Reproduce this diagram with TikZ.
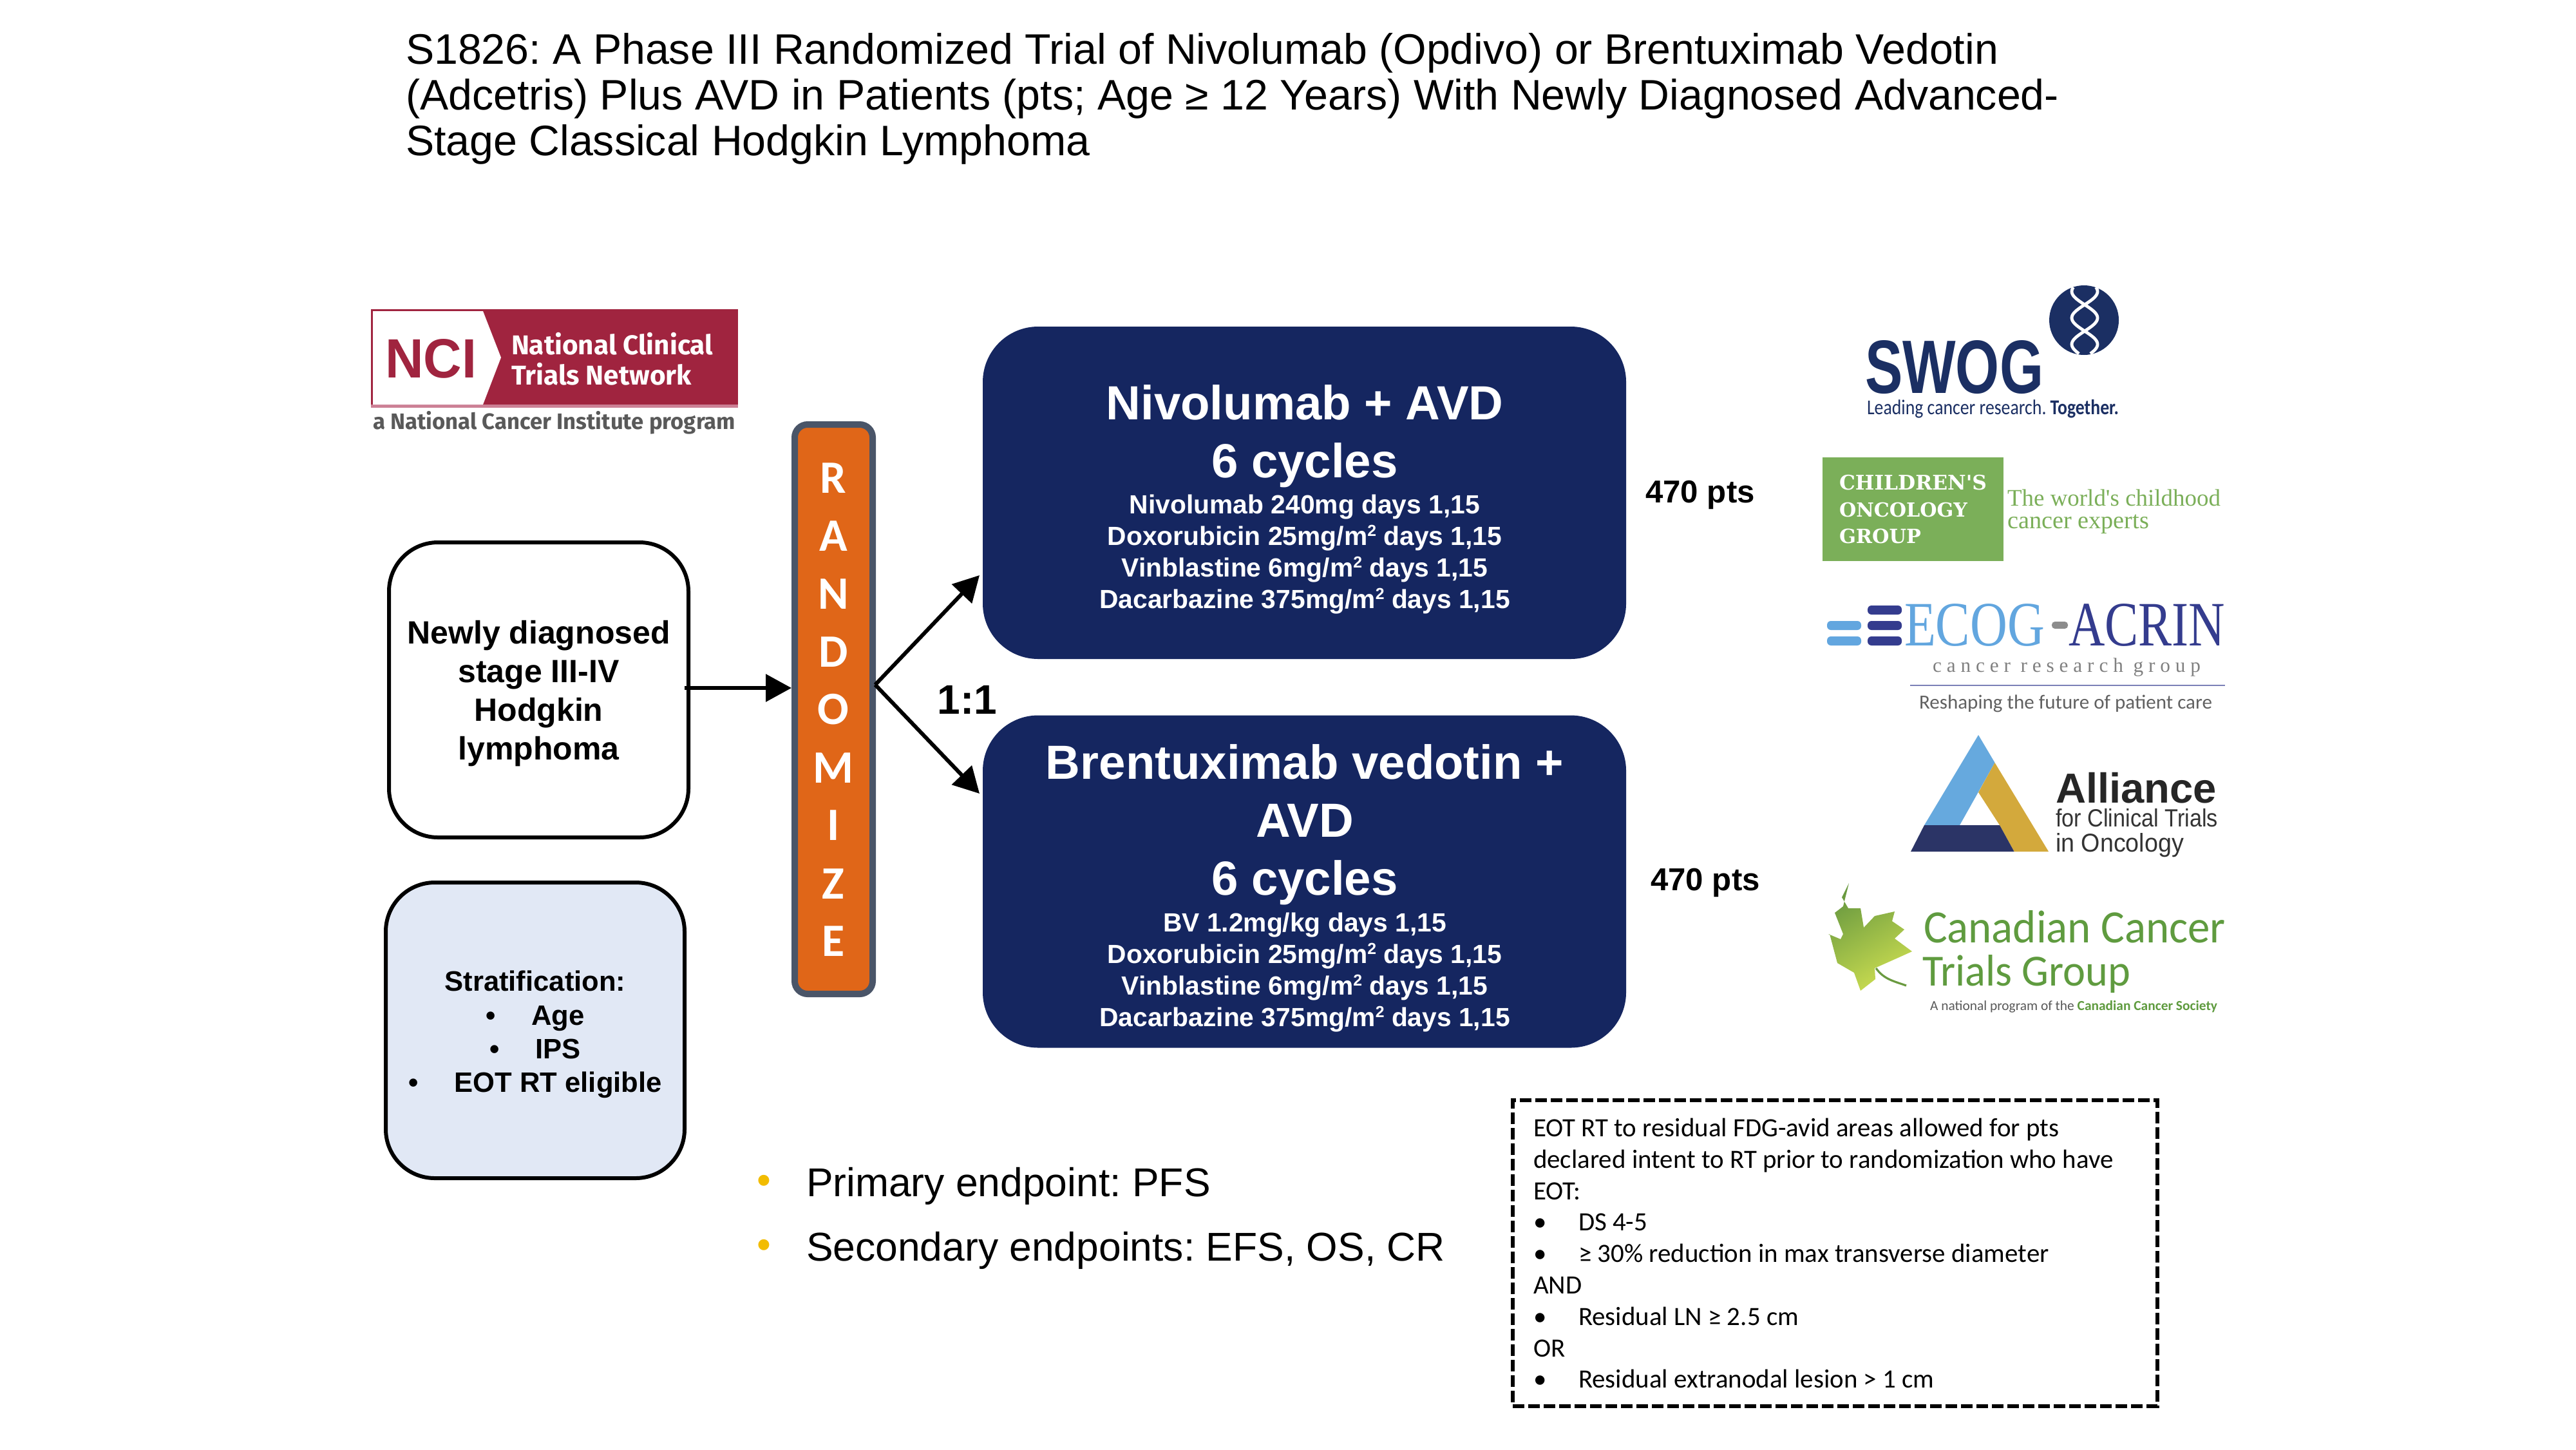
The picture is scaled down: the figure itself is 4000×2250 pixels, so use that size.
\documentclass[tikz,border=0pt]{standalone}
\usepackage{fontspec}
\usepackage{graphicx}
\usetikzlibrary{arrows.meta}
\setmainfont{Liberation Sans}
\newfontfamily\calib{Carlito}
\newfontfamily\slab{DejaVu Serif}
\newfontfamily\tserif{Liberation Serif}
\newfontfamily\logosans{Fira Sans}
\frenchspacing
\newlength\pxu \setlength\pxu{0.25pt}
\definecolor{navy}{HTML}{152660}
\definecolor{orangeR}{HTML}{E06618}
\definecolor{slateR}{HTML}{4A5568}
\definecolor{paleblue}{HTML}{E1E8F5}
\definecolor{nciRed}{HTML}{A0243F}
\definecolor{nciPale}{HTML}{CC8095}
\definecolor{swogBlue}{HTML}{1B2F63}
\definecolor{cogGreen}{HTML}{7BAF59}
\definecolor{ecogLight}{HTML}{62A6DF}
\definecolor{ecogDark}{HTML}{343C8E}
\definecolor{allBlue}{HTML}{66A9DE}
\definecolor{allGold}{HTML}{D3A93C}
\definecolor{allNavy}{HTML}{2B3466}
\definecolor{ccGreen}{HTML}{5F9B3F}
\definecolor{leafDark}{HTML}{6A9A40}
\definecolor{leafLight}{HTML}{CBDD50}
\definecolor{yellowB}{HTML}{F2BC00}
\newcommand{\fitw}[2]{\resizebox{#1\pxu}{!}{#2}}
\newcommand{\fitwh}[3]{\resizebox{#1\pxu}{#2\pxu}{#3}}
\newcommand{\bull}{\makebox[70\pxu][l]{\textbullet}}
\newcommand{\sqr}{\raisebox{0.36em}{\fontsize{6.2}{7}\selectfont 2}}
\tikzset{
  txt/.style={inner sep=0pt,outer sep=0pt},
  logotxt/.style={inner sep=0pt,outer sep=0pt,anchor=base west},
  roundbox/.style 2 args={rectangle,outer sep=0pt,inner sep=0pt,minimum width=#1\pxu,minimum height=#2\pxu},
  armbox/.style={roundbox={999}{516},fill=navy,rounded corners=21.5pt},
  armhead/.style={txt,align=center,text=white,font=\fontsize{18.6}{22.5}\selectfont\bfseries},
  armsub/.style={txt,align=center,text=white,font=\fontsize{10.2}{12.25}\selectfont\bfseries},
  flowarrow/.style={line width=1.5pt,-{Triangle[length=10pt,width=10.5pt]}},
  randletter/.style={txt,text=white,font=\fontsize{18}{20}\selectfont\calib\bfseries},
  ptslabel/.style={txt,font=\fontsize{12.3}{14}\selectfont\bfseries},
  endpt/.style={txt,anchor=west,font=\fontsize{15.6}{18}\selectfont},
  ybull/.style={txt,text=yellowB,font=\fontsize{15.6}{18}\selectfont}
}
\begin{document}
\begin{tikzpicture}[x=0.25pt,y=-0.25pt]
\fill[white] (0,0) rectangle (4000,2250);
\path[use as bounding box] (0,0) rectangle (4000,2250);

% title
\node[txt,anchor=north west,align=left,font=\fontsize{16.57}{17.85}\selectfont] (title) at (630,51)
 {S1826: A Phase III Randomized Trial of Nivolumab (Opdivo) or Brentuximab Vedotin\\
  (Adcetris) Plus AVD in Patients (pts; Age ≥ 12 Years) With Newly Diagnosed Advanced-\\
  Stage Classical Hodgkin Lymphoma};

% main boxes
\node[roundbox={465}{458},draw=black,line width=1.5pt,fill=white,rounded corners=19pt] (in) at (836.5,1071) {};
\node[txt,align=center,font=\fontsize{12.5}{15}\selectfont\bfseries] (intxt) at (836.5,1077)
 {Newly diagnosed\\stage III-IV\\Hodgkin\\lymphoma};
\node[roundbox={464}{459},draw=black,line width=1.5pt,fill=paleblue,rounded corners=19pt] (strat) at (831,1599.5) {};
\node[txt,align=center,font=\fontsize{10.9}{13.1}\selectfont\bfseries] (strattxt) at (831,1606)
 {Stratification:\\
  \textbullet\hspace{14pt}Age\\
  \textbullet\hspace{14pt}IPS\\
  \textbullet\hspace{14pt}EOT RT eligible};
\node[roundbox={121}{884},draw=slateR,line width=2.5pt,fill=orangeR,rounded corners=5pt] (rand) at (1294.5,1101) {};
\foreach \l/\y in {R/742,A/832,N/922,D/1012,O/1101,M/1192,I/1281,Z/1372,E/1461}
  \node[randletter] (let\l) at (1294,\y) {\l};
\node[armbox] (arm1) at (2025.5,765) {};
\node[armbox] (arm2) at (2025.5,1368.5) {};

\node[armhead] (arm1h) at (2026,677) {Nivolumab + AVD\\6 cycles};
\node[armsub] (arm1s) at (2026,861)
 {Nivolumab 240mg days 1,15\\
  Doxorubicin 25mg/m\sqr{} days 1,15\\
  Vinblastine 6mg/m\sqr{} days 1,15\\
  Dacarbazine 375mg/m\sqr{} days 1,15};
\node[armhead] (arm2h) at (2026,1280) {Brentuximab vedotin +\\AVD\\6 cycles};
\node[armsub] (arm2s) at (2026,1510)
 {BV 1.2mg/kg days 1,15\\
  Doxorubicin 25mg/m\sqr{} days 1,15\\
  Vinblastine 6mg/m\sqr{} days 1,15\\
  Dacarbazine 375mg/m\sqr{} days 1,15};

% connectors
\coordinate (inlevel) at (0,1068);
\coordinate (fork) at (1359,1063);
\coordinate (tip1) at (1521,893);
\coordinate (tip2) at (1521,1232);
\draw[flowarrow] ([xshift=-1.5pt]in.east |- inlevel) -- ([xshift=-1.25pt]rand.west |- inlevel);
\draw[flowarrow] (fork) -- (tip1);
\draw[flowarrow] (fork) -- (tip2);

\node[txt,font=\fontsize{16}{18}\selectfont\bfseries] (ratio) at (1502,1086) {1:1};
\node[ptslabel] (pts1) at (2640,768) {470 pts};
\node[ptslabel] (pts2) at (2648,1370) {470 pts};

% endpoints
\node[ybull] (b1) at (1186,1839) {\textbullet};
\node[endpt] (e1) at (1252,1841) {Primary endpoint: PFS};
\node[ybull] (b2) at (1186,1939) {\textbullet};
\node[endpt] (e2) at (1252,1941) {Secondary endpoints: EFS, OS, CR};

% dashed note
\node[roundbox={1001}{475},draw=black,line width=1.5pt,dash pattern=on 4.5pt off 1.5pt] (note) at (2849.5,1945.5) {};
\node[txt,anchor=north west,align=left,font=\fontsize{10.23}{12.2}\selectfont\calib] (notetxt) at (2381,1736)
 {EOT RT to residual FDG-avid areas allowed for pts\\
  declared intent to RT prior to randomization who have\\
  EOT:\\
  \bull DS 4-5\\
  \bull ≥ 30\% reduction in max transverse diameter\\
  AND\\
  \bull Residual LN ≥ 2.5 cm\\
  OR\\
  \bull Residual extranodal lesion > 1 cm};

% NCI logo
\fill[nciRed] (576,480) rectangle (1146,628);
\fill[nciPale] (576,628) rectangle (1146,633);
\fill[white] (579,483) -- (750,483) -- (778,555) -- (750,628) -- (579,628) -- cycle;
\node[logotxt,text=nciRed,font=\bfseries] (nci) at (598,586) {\fitwh{142}{60}{NCI}};
\node[logotxt,text=white,font=\logosans\bfseries] (nci1) at (794,550) {\fitw{313}{National Clinical}};
\node[logotxt,text=white,font=\logosans\bfseries] (nci2) at (794,597) {\fitw{280}{Trials Network}};
\node[logotxt,text=black!65,font=\logosans\bfseries] (nci3) at (579,666) {\fitw{563}{a National Cancer Institute program}};

% SWOG logo
\fill[swogBlue] (3236,497) circle[radius=54];
\draw[white,line width=1.2pt] plot[domain=446:549,samples=50,smooth] ({3237+20*sin((\x-473)/41*180)},\x);
\draw[white,line width=1.2pt] plot[domain=446:549,samples=50,smooth] ({3237-20*sin((\x-473)/41*180)},\x);
\node[logotxt,text=swogBlue,font=\bfseries] (swog) at (2896,610) {\fitwh{277}{82}{SWOG}};
\node[logotxt,text=swogBlue,font=\calib] (swog2) at (2899,643) {\fitwh{391}{23}{Leading cancer research. \textbf{Together.}}};

% COG logo
\fill[cogGreen] (2830,710) rectangle (3111,871);
\node[logotxt,text=white,font=\slab\bfseries] (cog1) at (2856,760) {\fitw{229}{CHILDREN'S}};
\node[logotxt,text=white,font=\slab\bfseries] (cog2) at (2856,802) {\fitw{199}{ONCOLOGY}};
\node[logotxt,text=white,font=\slab\bfseries] (cog3) at (2856,843) {\fitw{127}{GROUP}};
\node[logotxt,text=cogGreen,font=\tserif] (cog4) at (3117,785) {\fitw{331}{The world's childhood}};
\node[logotxt,text=cogGreen,font=\tserif] (cog5) at (3117,820) {\fitw{220}{cancer experts}};

% ECOG-ACRIN logo
\foreach \a/\b in {964/978,988/1002}
  \fill[ecogLight,rounded corners=1.5pt] (2837,\a) rectangle (2890,\b);
\foreach \a/\b in {940/954,964/978,988/1002}
  \fill[ecogDark,rounded corners=1.5pt] (2900,\a) rectangle (2953,\b);
\node[logotxt,text=ecogLight,font=\tserif] (ecog) at (2957,1002) {\fitwh{218}{65}{ECOG}};
\fill[black!45,rounded corners=1.2pt] (3186,965) rectangle (3211,976);
\node[logotxt,text=ecogDark,font=\tserif] (acrin) at (3212,1002) {\fitwh{243}{65}{ACRIN}};
\node[logotxt,text=black!50,font=\tserif] (ecog2) at (3001,1043) {\fitw{416}{c a n c e r\ \ r e s e a r c h\ \ g r o u p}};
\draw[ecogDark!65,line width=0.6pt] (2966,1064) -- (3455,1064);
\node[logotxt,text=black!62,font=\calib] (ecog3) at (2980,1100) {\fitw{455}{Reshaping the future of patient care}};

% Alliance logo
\fill[allBlue] (3072,1141) -- (3097.5,1184) -- (3043,1281) -- (2988,1281) -- cycle;
\fill[allGold] (3097.5,1184) -- (3181,1322) -- (3127.5,1322) -- (3105,1281) -- (3072,1230) -- cycle;
\fill[allNavy] (2988,1281) -- (3105,1281) -- (3127.5,1322) -- (2967,1322) -- cycle;
\node[logotxt,text=black!85,font=\bfseries] (all1) at (3192,1246) {\fitw{250}{Alliance}};
\node[logotxt,text=black!80] (all2) at (3192,1283) {\fitwh{252}{28}{for Clinical Trials}};
\node[logotxt,text=black!80] (all3) at (3192,1322) {\fitwh{199}{29}{in Oncology}};

% CCTG logo
\path[left color=leafDark,right color=leafLight,shading angle=30]
  (2871,1371) -- (2860,1393) -- (2870,1410) -- (2889,1410) -- (2894,1440)
  -- (2911,1422) -- (2942,1415) -- (2938,1430) -- (2957,1443) -- (2942,1457)
  -- (2969,1477) -- (2947,1487) -- (2911,1503) -- (2912,1520) -- (2889,1538)
  -- (2879,1510) -- (2853,1495) -- (2841,1450) -- (2839,1450) -- (2858,1458)
  -- (2862,1450) -- (2849,1417) -- (2862,1407) -- cycle;
\draw[leafDark,line width=0.8pt] (2913,1503) .. controls (2925,1520) and (2940,1523) .. (2960,1530);
\node[logotxt,text=ccGreen,font=\calib] (cc1) at (2987,1463) {\fitwh{469}{50}{Canadian Cancer}};
\node[logotxt,text=ccGreen,font=\calib] (cc2) at (2985,1530) {\fitwh{323}{48}{Trials Group}};
\node[logotxt,text=black!65,font=\calib] (cc3) at (2997,1568) {\fitw{446}{A national program of the \textcolor{ccGreen}{\textbf{Canadian Cancer Society}}}};
\end{tikzpicture}
\end{document}
